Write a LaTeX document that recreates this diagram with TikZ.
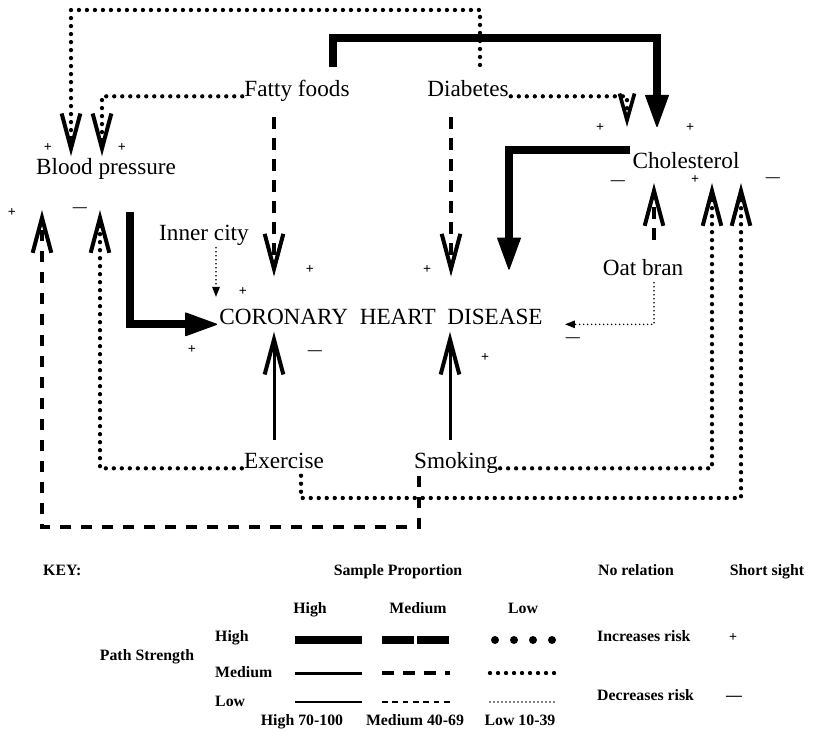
\documentclass[tikz,border=0pt]{standalone}
\usepackage{fontspec}
\setmainfont{Liberation Serif}
\usetikzlibrary{arrows.meta}

\tikzset{
    lbl/.style={font=\fontsize{19.8}{22}\selectfont, inner sep=0.06cm, text height=13.5pt, text depth=4.4pt},
    sgn/.style={font=\fontsize{12}{12}\selectfont\bfseries, inner sep=0pt},
    keytxt/.style={font=\fontsize{13.5}{15}\selectfont\bfseries, inner sep=0pt, text height=9.2pt, text depth=3pt},
    % path strength / sample proportion
    phh/.style={line width=0.24cm},
    phm/.style={line width=0.24cm, dash pattern=on 0.97cm off 0.08cm},
    pmh/.style={line width=0.09cm},
    pmm/.style={line width=0.11cm, dash pattern=on 0.35cm off 0.28cm},
    pml/.style={line width=0.13cm, line cap=round, dash pattern=on 0pt off 0.24cm},
    plh/.style={line width=0.04cm},
    plm/.style={line width=0.045cm, dash pattern=on 0.17cm off 0.14cm},
    pll/.style={line width=0.05cm, line cap=round, dash pattern=on 0pt off 0.12cm},
    % arrow heads
    tipheavy/.style={-{Triangle[length=1cm, width=0.72cm, line width=0.04cm, round]}},
    tipv/.style={-{Straight Barb[length=1.05cm, width=0.56cm, line width=0.12cm]}},
    tipvs/.style={-{Straight Barb[length=0.8cm, width=0.45cm, line width=0.11cm]}},
    tipsmall/.style={-{Triangle[length=0.3cm, width=0.22cm]}}
}

\begin{document}
\begin{tikzpicture}[x=0.03cm, y=-0.03cm]
    \useasboundingbox (0,0) rectangle (819,732);

    % Draw the factors
    \node[lbl] (fatty) at (297,91) {Fatty foods};
    \node[lbl] (diab) at (468,91) {Diabetes};
    \node[lbl] (bp) at (106,169) {Blood pressure};
    \node[lbl] (chol) at (686,163) {Cholesterol};
    \node[lbl] (inner) at (204,235) {Inner city};
    \node[lbl] (oat) at (643,270) {Oat bran};
    \node[lbl] (chd) at (381,319) {CORONARY~~HEART~~DISEASE};
    \node[lbl] (exer) at (284,463) {Exercise};
    \node[lbl] (smok) at (456,463) {Smoking};

    % Paths into blood pressure
    \draw[pml, tipv, shorten <=0.4cm] (diab.north -| 480,0) |- (71,10) -- (bp.north -| 71,0);
    \draw[pml, tipv] (fatty.base west) -| (bp.north -| 102,0);
    \draw[pml, tipv, shorten >=0.85cm] (exer.base west) -| (bp.south -| 100,0);
    \draw[pmm, tipv, shorten >=0.85cm] (smok.south -| 419,0) |- (42,527) -- (bp.south -| 42,0);

    % Paths into cholesterol
    \draw[phh, tipheavy, shorten <=0.35cm, shorten >=0.7cm] (fatty.north -| 333,0) |- (657,38) -- (chol.north -| 657,0);
    \draw[pml, tipvs, shorten >=0.7cm] (diab.base east) -| (chol.north -| 627,0);
    \draw[pmm, tipv, shorten <=0.52cm, shorten >=0.22cm] (oat.north -| 654,0) -- (chol.south -| 654,0);
    \draw[pml, tipv, shorten >=0.22cm] (smok.base east) -| (chol.south -| 712,0);
    \draw[pml, tipv, shorten >=0.22cm] (exer.south -| 301,0) |- (741,498) -- (chol.south -| 741,0);

    % Paths into coronary heart disease
    \draw[phh, tipheavy, shorten >=1.1cm] (chol.north west) -| (chd.north -| 509,0);
    \draw[phh, tipheavy, shorten <=0.9cm] (bp.south -| 130,0) |- (chd.base west);
    \draw[pmm, tipv, shorten <=0.4cm, shorten >=0.89cm] (fatty.south -| 274,0) -- (chd.north -| 274,0);
    \draw[pmm, tipv, shorten <=0.4cm, shorten >=0.89cm] (diab.south -| 451,0) -- (chd.north -| 451,0);
    \draw[pll, tipsmall, shorten >=0.28cm] (inner.south -| 216,0) -- (chd.north -| 216,0);
    \draw[pll, tipsmall, shorten >=0.6cm] (oat.south -| 654,0) |- (chd.base east);
    \draw[pmh, tipv, shorten <=0.3cm] (exer.north -| 274,0) -- (chd.south -| 274,0);
    \draw[pmh, tipv, shorten <=0.3cm] (smok.north -| 450,0) -- (chd.south -| 450,0);

    % Label the signs
    \foreach \x/\y [count=\i] in {48/148, 122/148, 600/128, 690/128, 695/180, 12/213,
                                  243/292, 310/270, 427/270, 192/350, 485/358}
        \node[sgn] (plus\i) at (\x,\y) {+};
    \foreach \x/\y [count=\i] in {618/183, 773/180, 80/210, 315/353, 573/340}
        \node[sgn] (minus\i) at (\x,\y) {---};

    % Draw the key
    \node[keytxt, anchor=west] (key) at (43,572) {KEY:};
    \node[keytxt] (sample) at (398,572) {Sample Proportion};
    \node[keytxt] (norel) at (636,572) {No relation};
    \node[keytxt] (short) at (767,572) {Short sight};
    \foreach \x/\t [count=\i] in {310/High, 418/Medium, 523/Low}
        \node[keytxt] (col\i) at (\x,610) {\t};
    \foreach \y/\t [count=\i] in {638/High, 674/Medium, 703/Low}
        \node[keytxt, anchor=west] (row\i) at (215,\y) {\t};
    \node[keytxt] (pathstr) at (147,657) {Path Strength};
    \node[keytxt] (rhigh) at (302,722) {High 70-100};
    \node[keytxt] (rmed) at (415,722) {Medium 40-69};
    \node[keytxt] (rlow) at (520,722) {Low 10-39};
    \node[keytxt, anchor=west] (incr) at (597,638) {Increases risk};
    \node[keytxt, anchor=west] (decr) at (597,697) {Decreases risk};
    \node[sgn] (kplus) at (733,638) {+};
    \node[keytxt] (kminus) at (734,697) {---};

    % Sample lines
    \draw[phh] (295,640) -- (362,640);
    \draw[phm] (382,640) -- (450,640);
    \foreach \x in {495,514,533,552}
        \fill (\x,640) circle[radius=0.12cm];
    \draw[pmh] (295,673) -- (362,673);
    \draw[pmm] (382,673) -- (450,673);
    \draw[pml] (490,673) -- (557,673);
    \draw[plh] (295,702) -- (362,702);
    \draw[plm] (382,702) -- (450,702);
    \draw[pll] (490,702) -- (557,702);
\end{tikzpicture}
\end{document}
